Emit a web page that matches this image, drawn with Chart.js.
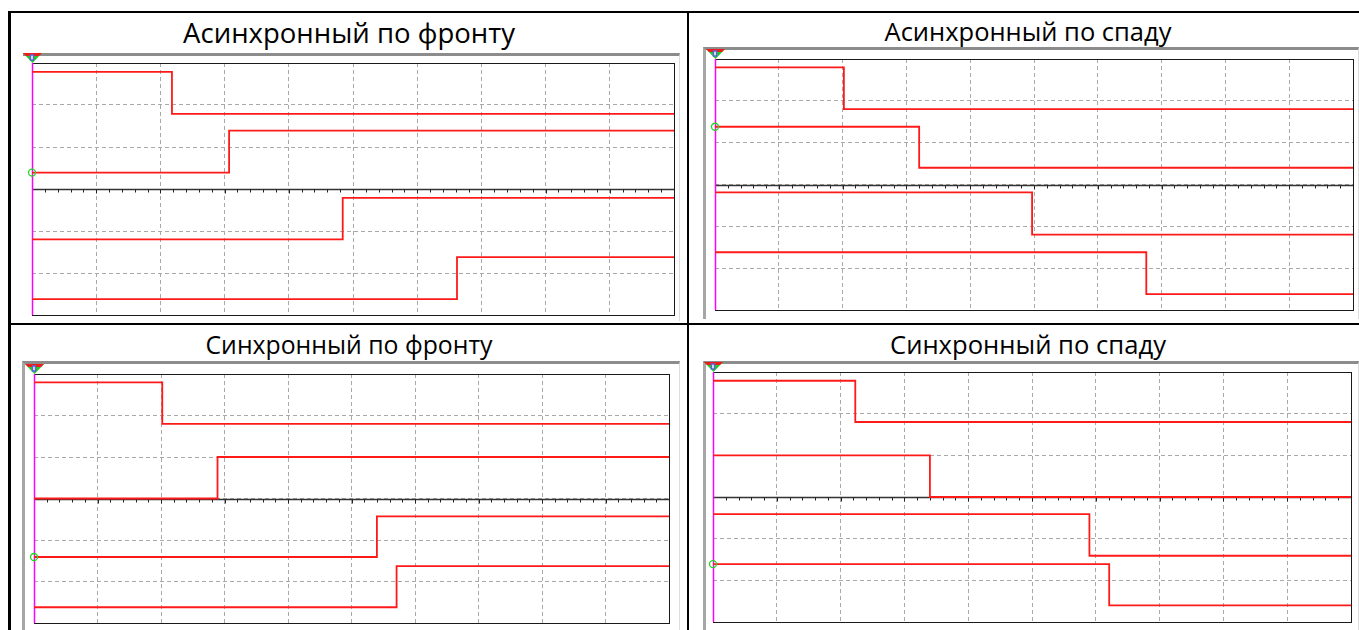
<!DOCTYPE html>
<html>
<head>
<meta charset="utf-8">
<script src="https://cdn.jsdelivr.net/npm/chart.js@4.4.0/dist/chart.umd.min.js"></script>
<style>
  body { margin: 0; background: #fff; width: 1359px; height: 630px; overflow: hidden; position: relative; font-family: "Open Sans", sans-serif; }
  .rule { position: absolute; background: #000; }
  .title { position: absolute; text-align: center; font-size: 26px; line-height: 26px; color: #000; white-space: nowrap; }
  .frame { position: absolute; box-sizing: border-box; border-top: 3px solid #8c8c8c; }
  canvas { position: absolute; }
</style>
</head>
<body>

<div class="rule" style="left:9px; top:11px; width:1350px; height:2px;"></div>
<div class="rule" style="left:8px; top:11px; width:3px; height:619px;"></div>
<div class="rule" style="left:687px; top:11px; width:2px; height:619px;"></div>
<div class="rule" style="left:9px; top:323px; width:1350px; height:2px;"></div>

<script>
// scope screen: 10 time divisions, 6 voltage divisions around zero
const timeRange = [0, 10];
const voltRange = [-3, 3];

const titles = ['Асинхронный по фронту', 'Асинхронный по спаду', 'Синхронный по фронту', 'Синхронный по спаду'];

// moment each channel switches (divisions) and its level before / after
const asyncRiseEdge = [2.18, 3.07, 4.84, 6.62];
const asyncRiseStart = [2.79, 0.39, -1.20, -2.62];
const asyncRiseEnd = [1.79, 1.39, -0.21, -1.62];

const asyncFallEdge = [2.02, 3.20, 4.97, 6.76];
const asyncFallStart = [2.80, 1.38, -0.19, -1.62];
const asyncFallEnd = [1.80, 0.40, -1.20, -2.62];

const syncRiseEdge = [2.02, 2.89, 5.40, 5.71];
const syncRiseStart = [2.80, 0.00, -1.41, -2.62];
const syncRiseEnd = [1.80, 1.00, -0.43, -1.63];

const syncFallEdge = [2.23, 3.40, 5.90, 6.21];
const syncFallStart = [2.79, 1.00, -0.41, -1.61];
const syncFallEnd = [1.80, 0.00, -1.41, -2.60];

// channel carrying the green ground marker
const markedChannel = [1, 1, 2, 3];

// page layout of each panel: cell, title width, picture frame and plot area
const panels = [
  { cell: [11, 687], titleTop: 20, titleWidth: 332, frame: [23, 53, 680, 321], plot: [32, 63, 674, 315], frameLeft: false },
  { cell: [689, 1367], titleTop: 19, titleWidth: 287, frame: [703, 47, 1359, 319], plot: [715, 59, 1353, 310], frameLeft: true },
  { cell: [11, 687], titleTop: 332, titleWidth: 287, frame: [22, 361, 680, 630], plot: [34, 374, 669, 623], frameLeft: true },
  { cell: [689, 1367], titleTop: 332, titleWidth: 276, frame: [703, 361, 1359, 630], plot: [713, 372, 1351, 622], frameLeft: true }
];

const measureCtx = document.createElement('canvas').getContext('2d');

const scopeDecor = {
  id: 'scopeDecor',
  beforeDatasetsDraw(chart) {
    const { ctx, chartArea: a, scales: { x, y } } = chart;
    ctx.save();
    // centre line with small ticks
    const y0 = Math.round(y.getPixelForValue(0)) + 0.5;
    ctx.strokeStyle = '#333';
    ctx.lineWidth = 1.6;
    ctx.beginPath();
    ctx.moveTo(a.left, y0);
    ctx.lineTo(a.right, y0);
    ctx.stroke();
    ctx.lineWidth = 1;
    ctx.strokeStyle = '#222';
    for (let k = 1; k < 50; k++) {
      const px = Math.round(x.getPixelForValue(k / 5)) + 0.5;
      ctx.beginPath();
      ctx.moveTo(px, y0);
      ctx.lineTo(px, y0 + (k % 5 === 0 ? 4 : 3));
      ctx.stroke();
    }
    // plot border
    ctx.strokeStyle = '#1a1a1a';
    ctx.lineWidth = 1;
    ctx.strokeRect(Math.round(a.left) + 0.5, Math.round(a.top) + 0.5, Math.round(a.right - a.left), Math.round(a.bottom - a.top));
    // magenta time origin
    const x0 = Math.round(x.getPixelForValue(0)) + 0.5;
    ctx.strokeStyle = '#ff00ff';
    ctx.lineWidth = 1.5;
    ctx.beginPath();
    ctx.moveTo(x0, a.top);
    ctx.lineTo(x0, a.bottom);
    ctx.stroke();
    // trigger marker
    ctx.fillStyle = '#22cc22';
    ctx.beginPath();
    ctx.moveTo(x0 - 9.5, a.top - 10);
    ctx.lineTo(x0 + 9.5, a.top - 10);
    ctx.lineTo(x0, a.top);
    ctx.closePath();
    ctx.fill();
    ctx.fillStyle = '#ee1c1c';
    ctx.beginPath();
    ctx.moveTo(x0 - 9.5, a.top - 10);
    ctx.lineTo(x0 + 9.5, a.top - 10);
    ctx.lineTo(x0 + 6.5, a.top - 7);
    ctx.lineTo(x0 - 6.5, a.top - 7);
    ctx.closePath();
    ctx.fill();
    ctx.fillStyle = '#fff';
    ctx.fillRect(x0 - 2, a.top - 8, 3, 5);
    ctx.strokeStyle = '#5566dd';
    ctx.strokeRect(x0 - 2, a.top - 8, 3, 5);
    ctx.restore();
  }
};

function drawPanel(i, edges, starts, ends) {
  const p = panels[i];

  // size the title so it spans the same width as in the original
  measureCtx.font = '26px "Open Sans"';
  const natural = measureCtx.measureText(titles[i]).width;
  const size = 26 * p.titleWidth / natural;
  const t = document.createElement('div');
  t.className = 'title';
  t.textContent = titles[i];
  t.style.left = p.cell[0] + 'px';
  t.style.width = (p.cell[1] - p.cell[0]) + 'px';
  t.style.top = (p.titleTop + 23 - size * 0.89) + 'px';
  t.style.fontSize = size.toFixed(2) + 'px';
  t.style.lineHeight = size.toFixed(2) + 'px';
  document.body.appendChild(t);

  const [fl, ft, fr, fb] = p.frame;
  const f = document.createElement('div');
  f.className = 'frame';
  f.style.left = fl + 'px';
  f.style.top = ft + 'px';
  f.style.width = (fr - fl) + 'px';
  f.style.height = (fb - ft) + 'px';
  if (p.frameLeft) f.style.borderLeft = '3px solid #a6a6a6';
  f.style.borderRight = '1px solid #dcdcdc';
  document.body.appendChild(f);

  const c = document.createElement('canvas');
  c.width = fr - fl;
  c.height = fb - ft;
  c.style.left = fl + 'px';
  c.style.top = ft + 'px';
  document.body.appendChild(c);

  const [pl, pt, pr, pb] = p.plot;
  const datasets = edges.map((edge, k) => ({
    data: [
      { x: timeRange[0], y: starts[k] },
      { x: edge, y: ends[k] },
      { x: timeRange[1], y: ends[k] }
    ],
    stepped: true,
    borderColor: '#ff1a1a',
    borderWidth: 1.8,
    pointRadius: k === markedChannel[i] ? [3.5, 0, 0] : 0,
    pointBorderColor: '#1ed81e',
    pointBorderWidth: 1.3,
    pointBackgroundColor: 'rgba(0,0,0,0)',
    clip: false
  }));

  new Chart(c, {
    type: 'line',
    data: { datasets },
    options: {
      responsive: false,
      animation: false,
      events: [],
      layout: { padding: { left: pl - fl, top: pt - ft, right: fr - pr, bottom: fb - pb } },
      plugins: { legend: { display: false }, tooltip: { enabled: false } },
      scales: {
        x: {
          type: 'linear', min: timeRange[0], max: timeRange[1],
          ticks: { display: false, stepSize: 1 },
          grid: { color: '#a9a9a9', drawTicks: false },
          border: { display: false, dash: [4, 3] }
        },
        y: {
          type: 'linear', min: voltRange[0], max: voltRange[1],
          ticks: { display: false, stepSize: 1 },
          grid: { color: '#a9a9a9', drawTicks: false },
          border: { display: false, dash: [4, 3] }
        }
      }
    },
    plugins: [scopeDecor]
  });
}

document.fonts.load('26px "Open Sans"').then(() => {
  drawPanel(0, asyncRiseEdge, asyncRiseStart, asyncRiseEnd);
  drawPanel(1, asyncFallEdge, asyncFallStart, asyncFallEnd);
  drawPanel(2, syncRiseEdge, syncRiseStart, syncRiseEnd);
  drawPanel(3, syncFallEdge, syncFallStart, syncFallEnd);
});
</script>
</body>
</html>
